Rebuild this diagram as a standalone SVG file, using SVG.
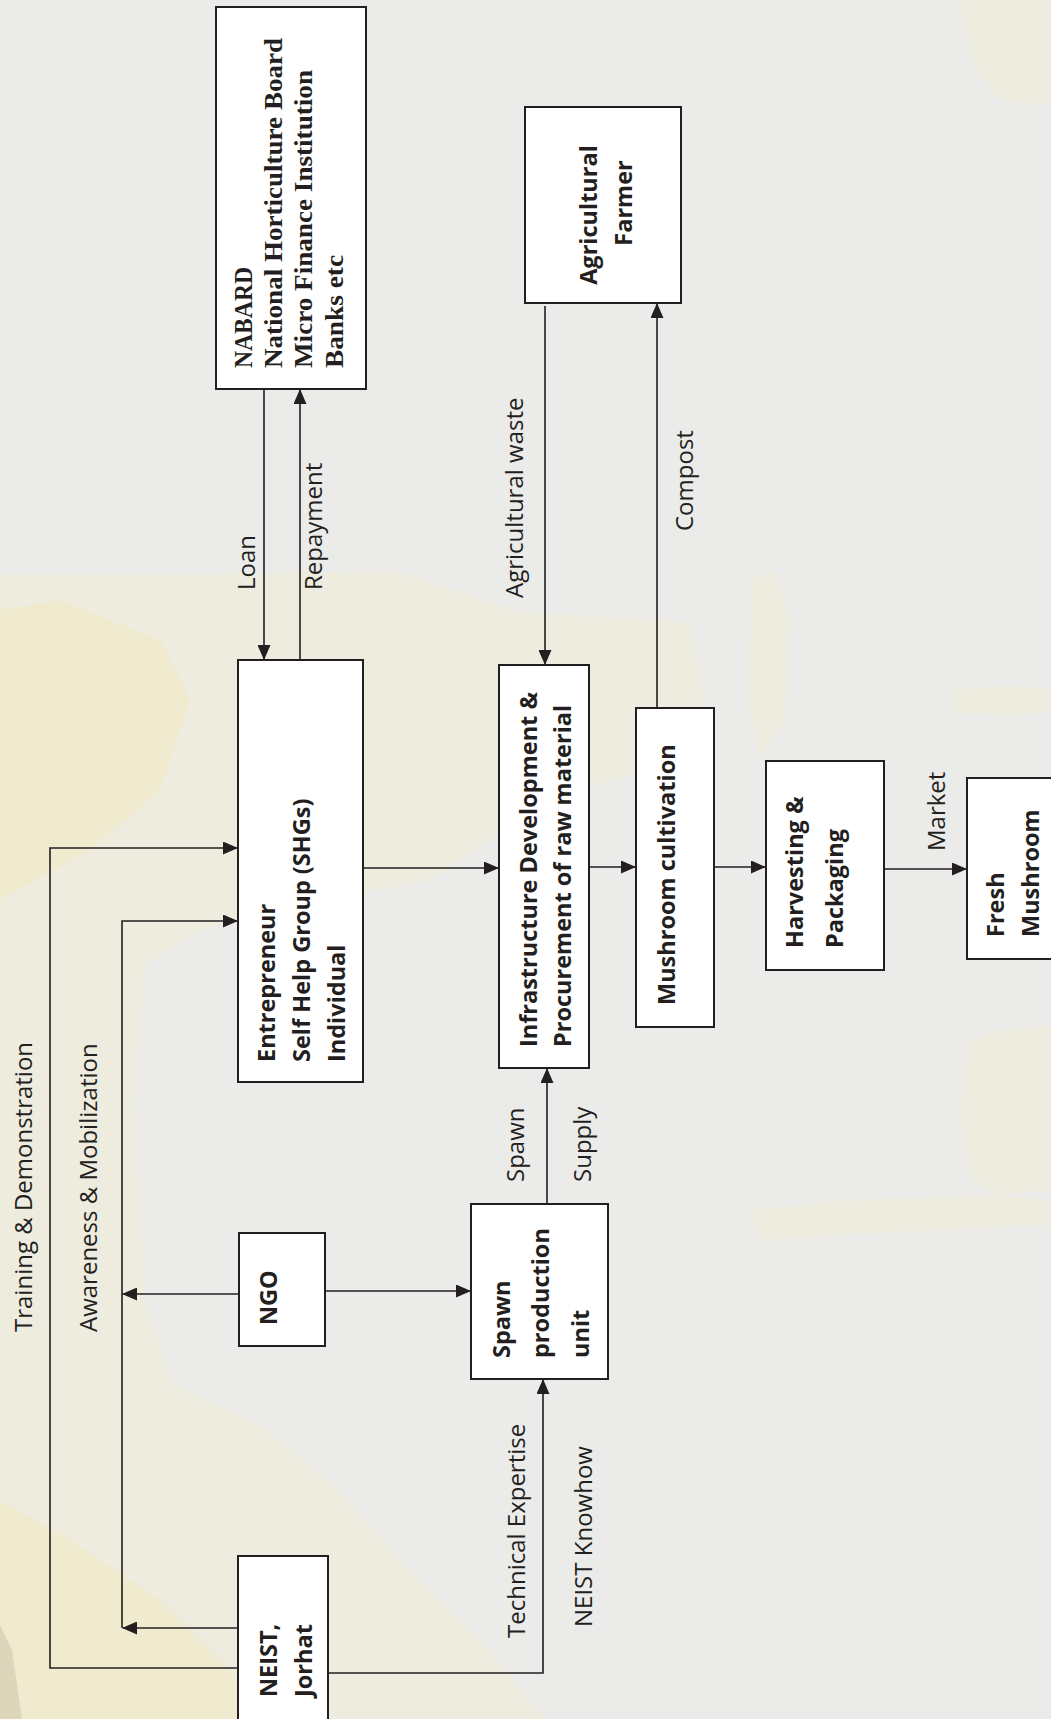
<svg xmlns="http://www.w3.org/2000/svg" width="1051" height="1719" viewBox="0 0 1051 1719">
<defs>
<marker id="ah" markerWidth="15" markerHeight="13" refX="14" refY="6.5" orient="auto" markerUnits="userSpaceOnUse">
<path d="M0,0 L15,6.5 L0,13 z" fill="#231f20"/>
</marker>
<style>
.bg{fill:#ebebe9}
.bei{fill:#eeebdf}
.yel{fill:#f0eacf}
.box{fill:#ffffff;stroke:#231f20;stroke-width:2}
.ln{fill:none;stroke:#231f20;stroke-width:1.6}
.lbl{font-family:"Open Sans","DejaVu Sans",sans-serif;font-size:24px;fill:#231f20}
.bt{font-family:"Open Sans","DejaVu Sans",sans-serif;font-size:23.5px;font-weight:bold;fill:#231f20}
.st{font-family:"Liberation Serif","Times New Roman",serif;font-size:26px;font-weight:bold;fill:#231f20}
</style>
</defs>
<rect class="bg" x="0" y="0" width="1051" height="1719"/>
<polygon class="bei" points="0,575 400,572 520,612 690,622 705,700 650,770 560,795 430,880 300,905 200,930 145,965 135,1100 145,1300 175,1385 260,1425 335,1485 405,1565 485,1645 545,1719 0,1719"/>
<polygon class="yel" points="0,610 60,600 160,640 190,700 160,790 90,850 0,900"/>
<polygon class="yel" points="0,1500 70,1540 160,1600 230,1670 260,1719 0,1719"/>
<polygon fill="#ddd6bb" points="0,1625 12,1650 22,1719 0,1719"/>
<polygon class="bei" points="960,0 1051,0 1051,105 1000,100 975,70 965,30"/>
<polygon class="bei" points="950,690 1000,686 1051,688 1051,712 1000,716 955,712"/>
<polygon class="bei" points="752,580 775,570 790,620 785,720 760,760 748,700"/>
<polygon class="bei" points="968,1040 1000,1030 1051,1025 1051,1190 1000,1195 970,1180 960,1110"/>
<polygon class="bei" points="750,1210 850,1200 1000,1195 1051,1200 1051,1225 900,1232 760,1240"/>

<g id="connectors">
<line class="ln" x1="264" y1="389" x2="264" y2="659" marker-end="url(#ah)"/>
<line class="ln" x1="300" y1="660" x2="300" y2="390" marker-end="url(#ah)"/>
<line class="ln" x1="545" y1="306" x2="545" y2="664" marker-end="url(#ah)"/>
<line class="ln" x1="657" y1="708" x2="657" y2="304" marker-end="url(#ah)"/>
<line class="ln" x1="363" y1="868" x2="498" y2="868" marker-end="url(#ah)"/>
<line class="ln" x1="589" y1="867" x2="635" y2="867" marker-end="url(#ah)"/>
<line class="ln" x1="712" y1="867" x2="765" y2="867" marker-end="url(#ah)"/>
<line class="ln" x1="884" y1="869" x2="966" y2="869" marker-end="url(#ah)"/>
<line class="ln" x1="547" y1="1204" x2="547" y2="1069" marker-end="url(#ah)"/>
<line class="ln" x1="325" y1="1291" x2="470" y2="1291" marker-end="url(#ah)"/>
<line class="ln" x1="239" y1="1294" x2="123" y2="1294" marker-end="url(#ah)"/>
<line class="ln" x1="238" y1="1628" x2="123" y2="1628" marker-end="url(#ah)"/>
<polyline class="ln" points="122,1628 122,921 237,921" marker-end="url(#ah)"/>
<polyline class="ln" points="238,1668 50,1668 50,848 237,848" marker-end="url(#ah)"/>
<polyline class="ln" points="328,1673 543,1673 543,1380" marker-end="url(#ah)"/>
<text class="lbl" transform="translate(255,590) rotate(-90)">Loan</text>
<text class="lbl" transform="translate(322,590) rotate(-90)">Repayment</text>
<text class="lbl" transform="translate(523,598) rotate(-90)">Agricultural waste</text>
<text class="lbl" transform="translate(693,531) rotate(-90)">Compost</text>
<text class="lbl" transform="translate(945,851) rotate(-90)">Market</text>
<text class="lbl" transform="translate(524,1182) rotate(-90)">Spawn</text>
<text class="lbl" transform="translate(591,1182) rotate(-90)">Supply</text>
<text class="lbl" transform="translate(32,1332) rotate(-90)">Training &amp; Demonstration</text>
<text class="lbl" transform="translate(97,1332) rotate(-90)">Awareness &amp; Mobilization</text>
<text class="lbl" transform="translate(525,1638) rotate(-90)">Technical Expertise</text>
<text class="lbl" transform="translate(592,1627) rotate(-90)">NEIST Knowhow</text>
</g>

<g id="nabard">
<rect class="box" x="216" y="7" width="150" height="382"/>
<text class="st" transform="translate(252,368) rotate(-90)" textLength="101" lengthAdjust="spacingAndGlyphs">NABARD</text>
<text class="st" transform="translate(282,368) rotate(-90)" textLength="330" lengthAdjust="spacingAndGlyphs">National Horticulture Board</text>
<text class="st" transform="translate(312,368) rotate(-90)" textLength="298" lengthAdjust="spacingAndGlyphs">Micro Finance Institution</text>
<text class="st" transform="translate(343,368) rotate(-90)" textLength="113" lengthAdjust="spacingAndGlyphs">Banks etc</text>
</g>
<g id="farmer">
<rect class="box" x="525" y="107" width="156" height="196"/>
<text class="bt" text-anchor="middle" transform="translate(597,215) rotate(-90)">Agricultural</text>
<text class="bt" text-anchor="middle" transform="translate(632,203) rotate(-90)">Farmer</text>
</g>
<g id="entrepreneur">
<rect class="box" x="238" y="660" width="125" height="422"/>
<text class="bt" transform="translate(275,1062) rotate(-90)">Entrepreneur</text>
<text class="bt" transform="translate(310,1062) rotate(-90)">Self Help Group (SHGs)</text>
<text class="bt" transform="translate(345,1062) rotate(-90)">Individual</text>
</g>
<g id="infrastructure">
<rect class="box" x="499" y="665" width="90" height="403"/>
<text class="bt" transform="translate(537,1047) rotate(-90)">Infrastructure Development &amp;</text>
<text class="bt" transform="translate(571,1047) rotate(-90)">Procurement of raw material</text>
</g>
<g id="cultivation">
<rect class="box" x="636" y="708" width="78" height="319"/>
<text class="bt" transform="translate(675,1005) rotate(-90)">Mushroom cultivation</text>
</g>
<g id="harvesting">
<rect class="box" x="766" y="761" width="118" height="209"/>
<text class="bt" transform="translate(803,948) rotate(-90)">Harvesting &amp;</text>
<text class="bt" transform="translate(843,948) rotate(-90)">Packaging</text>
</g>
<g id="fresh">
<rect class="box" x="967" y="778" width="100" height="181"/>
<text class="bt" transform="translate(1004,937) rotate(-90)">Fresh</text>
<text class="bt" transform="translate(1039,937) rotate(-90)">Mushroom</text>
</g>
<g id="spawnunit">
<rect class="box" x="471" y="1204" width="137" height="175"/>
<text class="bt" transform="translate(510,1358) rotate(-90)">Spawn</text>
<text class="bt" transform="translate(549,1358) rotate(-90)">production</text>
<text class="bt" transform="translate(589,1358) rotate(-90)">unit</text>
</g>
<g id="ngo">
<rect class="box" x="239" y="1233" width="86" height="113"/>
<text class="bt" transform="translate(277,1325) rotate(-90)">NGO</text>
</g>
<g id="neist">
<rect class="box" x="238" y="1556" width="90" height="170"/>
<text class="bt" transform="translate(277,1697) rotate(-90)">NEIST,</text>
<text class="bt" transform="translate(312,1697) rotate(-90)">Jorhat</text>
</g>
</svg>
